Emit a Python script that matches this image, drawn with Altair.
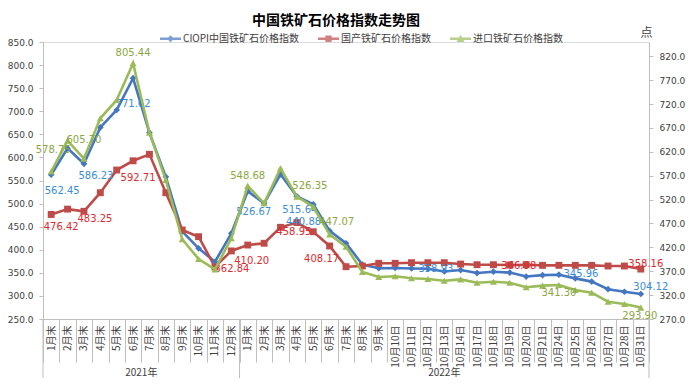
import json
import altair as alt
import pandas as pd

# ---------------- data ----------------
cats_2021 = ["1月末", "2月末", "3月末", "4月末", "5月末", "6月末", "7月末", "8月末",
             "9月末", "10月末", "11月末", "12月末"]
cats_2022 = ["1月末", "2月末", "3月末", "4月末", "5月末", "6月末", "7月末", "8月末", "9月末"]
cats_oct = ["10月10日", "10月11日", "10月12日", "10月13日", "10月14日", "10月17日",
            "10月18日", "10月19日", "10月20日", "10月21日", "10月24日", "10月25日",
            "10月26日", "10月27日", "10月28日", "10月31日"]
categories = cats_2021 + cats_2022 + cats_oct

series_names = ["CIOPI中国铁矿石价格指数", "国产铁矿石价格指数", "进口铁矿石价格指数"]

ciopi = [562.45, 619.7, 586.23, 665.0, 702.7, 771.62, 653.5, 558.0, 440.0, 403.0, 374.0, 435.6,
         526.67, 500.6, 563.4, 515.64, 498.4, 440.88, 414.0, 368.0, 360.0,
         360.5, 359.5, 358.93, 353.0, 356.0, 349.5, 352.5, 350.5, 342.0, 345.0,
         345.96, 338.0, 331.0, 314.5, 309.0, 304.12]
domestic = [476.42, 488.0, 483.25, 523.6, 572.7, 592.71, 606.7, 523.6, 442.8, 428.3, 362.84, 397.5,
            410.20, 414.0, 448.6, 458.95, 439.0, 408.17, 363.3, 364.8, 370.6,
            370.6, 372.0, 372.0, 372.0, 369.0, 367.6, 367.6, 366.98, 367.6, 366.2,
            366.2, 366.2, 366.2, 364.8, 364.8, 358.16]
imported = [578.75, 643.4, 605.70, 690.3, 728.6, 805.44, 660.0, 561.0, 437.0, 395.6, 374.0, 439.0,
            548.68, 512.3, 585.6, 526.35, 505.0, 447.07, 421.4, 368.5, 358.0,
            359.5, 355.2, 353.8, 350.2, 353.0, 346.0, 348.0, 346.0, 336.4, 339.8,
            341.30, 330.7, 325.0, 306.2, 301.4, 293.90]

# data labels: which points are labelled
ciopi_label_idx = [0, 2, 5, 12, 15, 17, 23, 31, 36]
domestic_label_idx = [0, 2, 5, 10, 12, 15, 17, 28, 36]
imported_label_idx = [0, 2, 5, 12, 15, 17, 31, 36]

year_labels = ["2021年", "2022年"]

# ---------------- label placement (style) ----------------
ciopi_label_off = [(11, 16), (12, 12), (0, 26), (6, 21), (3, 14), (-26, -9), (8, 0), (22, -1), (10, -7)]
domestic_label_off = [(10, 13), (11, 8), (5, 17), (17, 2), (4, 16), (-3, 9), (-8, 13), (9, 1), (5, -5)]
imported_label_off = [(2, -22), (0, -19), (0, -10), (0, -10), (13, -11), (7, -12), (0, 8), (-1, 8)]

# ---------------- styles ----------------
W, H = 606, 277
line_colors = ["#4576C0", "#BE4B48", "#9BBB59"]
label_colors = ["#3A8DD8", "#DC2A2E", "#8AA73F"]
axis_gray = "#BFBFBF"
text_gray = "#404040"
cjk = "Noto Sans CJK SC"

n = len(categories)
idx = list(range(n))

df_left = pd.DataFrame({
    "idx": idx * 2,
    "series": [series_names[0]] * n + [series_names[1]] * n,
    "value": ciopi + domestic,
})
df_right = pd.DataFrame({"idx": idx, "series": [series_names[2]] * n, "value": imported})


def label_df(name, values, idxs, offs):
    return pd.DataFrame({
        "idx": idxs,
        "series": name,
        "value": [values[i] for i in idxs],
        "txt": [f"{values[i]:.2f}" for i in idxs],
        "dx": [o[0] for o in offs],
        "dy": [o[1] for o in offs],
    })


lab_c = label_df(series_names[0], ciopi, ciopi_label_idx, ciopi_label_off)
lab_d = label_df(series_names[1], domestic, domestic_label_idx, domestic_label_off)
lab_i = label_df(series_names[2], imported, imported_label_idx, imported_label_off)

label_expr = json.dumps(categories, ensure_ascii=False) + "[datum.value]"
x_scale = alt.Scale(type="band", paddingInner=0, paddingOuter=0)
x_axis = alt.Axis(
    labelExpr=label_expr, labelAngle=270, tickBand="extent", tickSize=43,
    tickColor=axis_gray, domainColor=axis_gray, labelPadding=-37,
    labelFont=cjk, labelFontSize=10, labelColor=text_gray, grid=False, title=None,
)


def X(bp=None):
    if bp is None:
        return alt.X("idx:O", scale=x_scale, axis=x_axis, title=None)
    return alt.X("idx:O", scale=x_scale, axis=x_axis, title=None, bandPosition=bp)


color_scale = alt.Scale(domain=series_names, range=line_colors)
shape_scale = alt.Scale(domain=series_names, range=["diamond", "square", "triangle-up"])
size_scale = alt.Scale(domain=series_names, range=[45, 50, 70])

y_left = alt.Y("value:Q", scale=alt.Scale(domain=[250, 850], nice=False, zero=False),
               axis=alt.Axis(values=list(range(250, 851, 50)), format=".1f", grid=False,
                             tickSize=4, domainColor=axis_gray, tickColor=axis_gray,
                             labelColor=text_gray, labelFont="DejaVu Sans", labelFontSize=9,
                             labelPadding=6, title=None, orient="left"))
y_right = alt.Y("value:Q", scale=alt.Scale(domain=[270, 850], nice=False, zero=False),
                axis=alt.Axis(values=list(range(270, 821, 50)), format=".1f", grid=False,
                              tickSize=4, domainColor=axis_gray, tickColor=axis_gray,
                              labelColor=text_gray, labelFont="DejaVu Sans", labelFontSize=9,
                              labelPadding=6, orient="right", title="点", titleAngle=0,
                              titleFont=cjk, titleFontSize=12, titleFontWeight="normal",
                              titleColor=text_gray, titleX=-3, titleY=-10,
                              titleAlign="center", titleBaseline="middle"))


def series_layers(df, y):
    line = alt.Chart(df).mark_line(strokeWidth=2.6).encode(
        x=X(), y=y, color=alt.Color("series:N", scale=color_scale, legend=None),
        detail="series:N")
    pts = alt.Chart(df).mark_point(filled=True, opacity=1).encode(
        x=X(), y=y,
        color=alt.Color("series:N", scale=color_scale, legend=None),
        shape=alt.Shape("series:N", scale=shape_scale, legend=None),
        size=alt.Size("series:N", scale=size_scale, legend=None))
    return [line, pts]


def text_layer(df, y, col):
    return alt.Chart(df).mark_text(
        font="DejaVu Sans", fontSize=10, baseline="middle", align="center", color=col,
        dx=alt.expr("datum.dx"), dy=alt.expr("datum.dy"),
    ).encode(x=X(), y=y, text="txt:N")


left = alt.layer(*series_layers(df_left, y_left),
                 text_layer(lab_c, y_left, label_colors[0]),
                 text_layer(lab_d, y_left, label_colors[1]))
right = alt.layer(*series_layers(df_right, y_right),
                  text_layer(lab_i, y_right, label_colors[2]))

# legend (line + marker symbols)
legend_paths = [
    "M-1,-0.11H1V0.11H-1Z M0,-0.33L0.33,0L0,0.33L-0.33,0Z",
    "M-1,-0.11H1V0.11H-1Z M-0.3,-0.3H0.3V0.3H-0.3Z",
    "M-1,-0.11H1V0.11H-1Z M0,-0.38L0.38,0.3H-0.38Z",
]
leg = alt.Legend(orient="none", legendX=117, legendY=-14, direction="horizontal",
                 title=None, symbolSize=441, symbolStrokeWidth=0, labelFont=cjk,
                 labelFontSize=10, labelColor=text_gray, labelOffset=2,
                 columnPadding=19, padding=0)
legend_df = pd.DataFrame({"series": series_names})
legend_layer = alt.Chart(legend_df).mark_point(filled=True, strokeWidth=0).encode(
    color=alt.Color("series:N", scale=alt.Scale(domain=series_names, range=line_colors), legend=leg),
    shape=alt.Shape("series:N", scale=alt.Scale(domain=series_names, range=legend_paths), legend=leg),
).transform_filter("false")

# category group boundaries and year labels
bound_start = pd.DataFrame({"idx": [0, len(cats_2021)]})
bound_end = pd.DataFrame({"idx": [n - 1]})
rule_start = alt.Chart(bound_start).mark_rule(color=axis_gray, strokeWidth=1).encode(
    x=X(0), y=alt.value(H), y2=alt.value(H + 59))
rule_end = alt.Chart(bound_end).mark_rule(color=axis_gray, strokeWidth=1).encode(
    x=X(1), y=alt.value(H), y2=alt.value(H + 59))
year1 = alt.Chart(pd.DataFrame({"idx": [len(cats_2021) // 2 - 1], "t": [year_labels[0]]})).mark_text(
    font=cjk, fontSize=10, color=text_gray, baseline="middle").encode(
    x=X(1), y=alt.value(H + 54), text="t:N")
year2 = alt.Chart(pd.DataFrame({"idx": [len(cats_2021) + (n - len(cats_2021)) // 2], "t": [year_labels[1]]})).mark_text(
    font=cjk, fontSize=10, color=text_gray, baseline="middle").encode(
    x=X(0.5), y=alt.value(H + 54), text="t:N")

chart = alt.layer(left, right, legend_layer, rule_start, rule_end, year1, year2).resolve_scale(
    y="independent", color="independent", shape="independent", size="independent"
).properties(
    width=W, height=H,
    title=alt.TitleParams("中国铁矿石价格指数走势图", font=cjk, fontSize=14, fontWeight="bold",
                          color="#000000", anchor="middle", offset=14, dx=-10, dy=16),
    autosize=alt.AutoSizeParams(type="none"),
    padding={"left": 35, "top": 34, "right": 40, "bottom": 62},
).configure_view(stroke=None).configure(background="white")

chart.save("out.html", embed_options={"renderer": "svg", "actions": False})
